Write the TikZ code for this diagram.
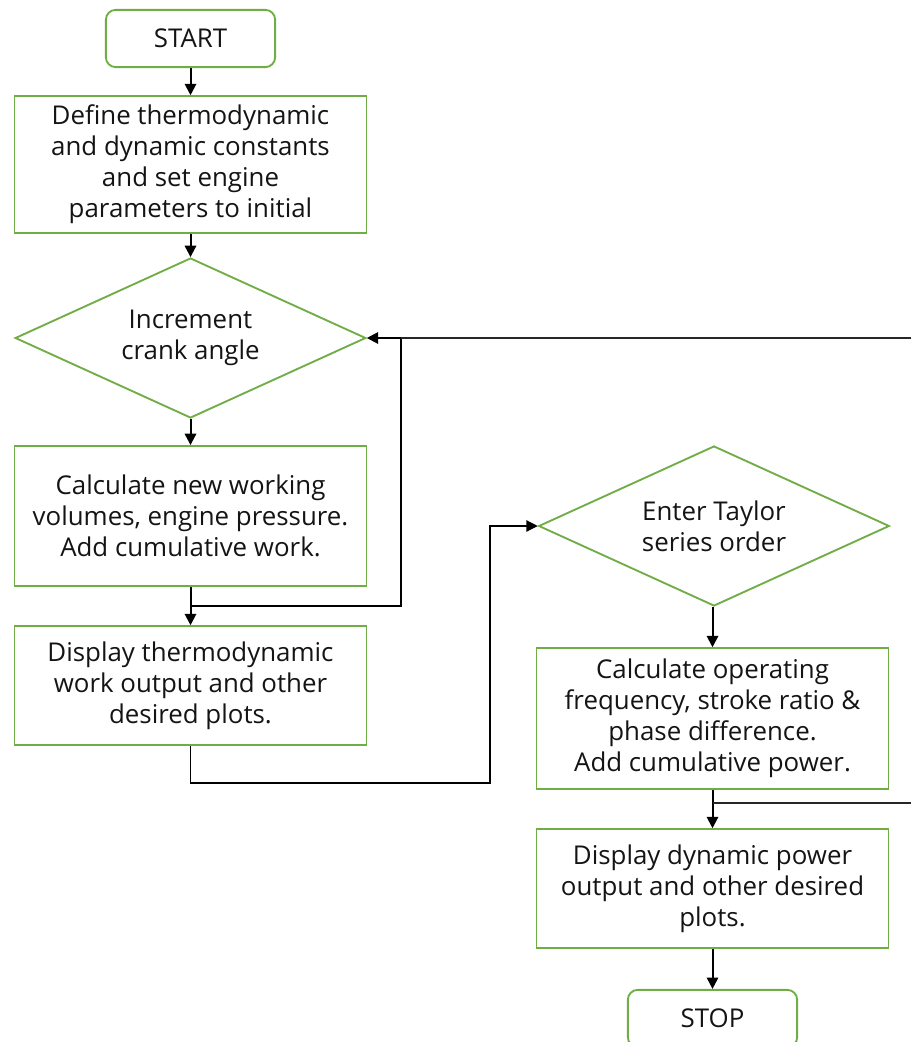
\documentclass[tikz,border=0pt]{standalone}
\usepackage{fontspec}
\setmainfont{Open Sans}
\usetikzlibrary{shapes.geometric, arrows.meta}
\definecolor{fgreen}{RGB}{112,173,71}
\definecolor{ftext}{RGB}{20,20,20}

\begin{document}
\begin{tikzpicture}[x=0.75pt, y=-0.75pt,
  every node/.style={font=\fontsize{19.4}{23.25}\selectfont, text=ftext, align=center, inner sep=0pt},
  terminal/.style={draw=fgreen, line width=1.4pt, rounded corners=7.5pt, minimum width=127pt, minimum height=43pt},
  process/.style={draw=fgreen, line width=1.4pt, minimum width=264pt},
  decision/.style={draw=fgreen, line width=1.4pt, diamond, aspect=2.2, minimum width=263pt, minimum height=120pt},
  arrow/.style={-{Triangle[length=8.5pt,width=8.5pt]}, line width=1.5pt, black},
  wire/.style={line width=0.9pt, black!85}
]
\useasboundingbox (0,0) rectangle (911,1042);

% left column
\node[terminal] (start) at (190.5,38.5) {START};
\node[process, minimum height=102.5pt] (define) at (190.5,164.5) {Define thermodynamic\\and dynamic constants\\and set engine\\parameters to initial};
\node[decision] (incr) at (190.5,338) {Increment\\crank angle};
\node[process, minimum height=105pt] (calcw) at (190.5,516) {Calculate new working\\volumes, engine pressure.\\Add cumulative work.};
\node[process, minimum height=89pt] (dispw) at (190.5,685.5) {Display thermodynamic\\work output and other\\desired plots.};

% right column
\node[decision] (taylor) at (714,526) {Enter Taylor\\series order};
\node[process, minimum height=105.5pt] (calcp) at (712.5,718.5) {Calculate operating\\frequency, stroke ratio \&\\phase difference.\\Add cumulative power.};
\node[process, minimum height=89pt] (dispp) at (712.5,888.5) {Display dynamic power\\output and other desired\\plots.};
\node[terminal] (stop) at (712.5,1018.5) {STOP};

\coordinate (jw) at (190.5,606);
\coordinate (kw) at (401,606);
\coordinate (kt) at (490,783);
\coordinate (jp) at (712.5,803);
\coordinate (rin) at (911,338);
\coordinate (rout) at (911,803);

\draw[arrow] (start) -- (define);
\draw[arrow] (define) -- (incr);
\draw[arrow] (incr) -- (calcw);
\draw[arrow] (calcw) -- (dispw);
\draw[arrow] (jw) -- (kw) |- (incr.east);
\draw[wire] (rin) -- (kw |- rin);
\draw[arrow, line width=0.9pt] (dispw.south) |- (kt) |- (taylor.west);
\draw[arrow] (calcp.north |- taylor.south) -- (calcp.north);
\draw[arrow] (calcp) -- (dispp);
\draw[wire] (jp) -- (rout);
\draw[arrow] (dispp) -- (stop);
\end{tikzpicture}
\end{document}
